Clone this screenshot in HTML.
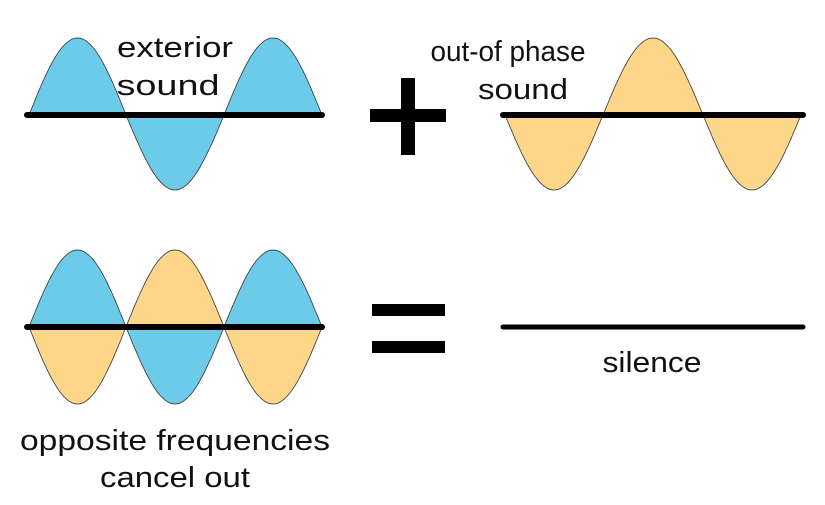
<!DOCTYPE html>
<html><head><meta charset="utf-8"><style>
html,body{margin:0;padding:0;background:#fff;width:825px;height:505px;overflow:hidden}
svg{display:block}
text{font-family:"Liberation Sans","DejaVu Sans",sans-serif;font-size:29px;fill:#111;text-anchor:middle}
</style></head><body>
<svg id="s" width="825" height="505" viewBox="0 0 825 505" xmlns="http://www.w3.org/2000/svg">
<g id="w"></g>
<line x1="27" y1="115" x2="322" y2="115" stroke="#000" stroke-width="6" stroke-linecap="round"/>
<line x1="503" y1="115" x2="803" y2="115" stroke="#000" stroke-width="6" stroke-linecap="round"/>
<line x1="27" y1="327" x2="322" y2="327" stroke="#000" stroke-width="6" stroke-linecap="round"/>
<line x1="503" y1="327" x2="803" y2="327" stroke="#000" stroke-width="5" stroke-linecap="round"/>
<rect x="401" y="78" width="14" height="77" fill="#000"/>
<rect x="370" y="109" width="76" height="13" fill="#000"/>
<rect x="372" y="304" width="73" height="12" fill="#000"/>
<rect x="372" y="341" width="73" height="12" fill="#000"/>
<text x="175" y="57" textLength="116" lengthAdjust="spacingAndGlyphs">exterior</text>
<text x="168" y="95" textLength="103" lengthAdjust="spacingAndGlyphs">sound</text>
<text x="508" y="61" textLength="155" lengthAdjust="spacingAndGlyphs">out-of phase</text>
<text x="523" y="99" textLength="90" lengthAdjust="spacingAndGlyphs">sound</text>
<text x="652" y="372" textLength="99" lengthAdjust="spacingAndGlyphs">silence</text>
<text x="175" y="450" textLength="310" lengthAdjust="spacingAndGlyphs">opposite frequencies</text>
<text x="175" y="487" textLength="150" lengthAdjust="spacingAndGlyphs">cancel out</text>
</svg>
<script>
var g=document.getElementById('w'),B='#6ccbe8',O='#fdd68a';
function arch(x0,w,y,h,c){var d='M'+x0+' '+y;for(var i=0;i<=40;i++){var x=x0+w*i/40;d+=' L'+x.toFixed(1)+' '+(y-h*Math.sin(Math.PI*i/40)).toFixed(1);}d+=' Z';
var p=document.createElementNS('http://www.w3.org/2000/svg','path');p.setAttribute('d',d);p.setAttribute('fill',c);p.setAttribute('stroke','#333');p.setAttribute('stroke-width','0.8');g.appendChild(p);}
arch(29,97,115,77,B);arch(126,98,115,-75,B);arch(224,98,115,77,B);
arch(505,98,115,-75,O);arch(603,100,115,77,O);arch(703,98,115,-75,O);
arch(29,97,327,77,B);arch(126,98,327,77,O);arch(224,98,327,77,B);
arch(29,97,327,-77,O);arch(126,98,327,-77,B);arch(224,98,327,-77,O);
</script>
</body></html>
